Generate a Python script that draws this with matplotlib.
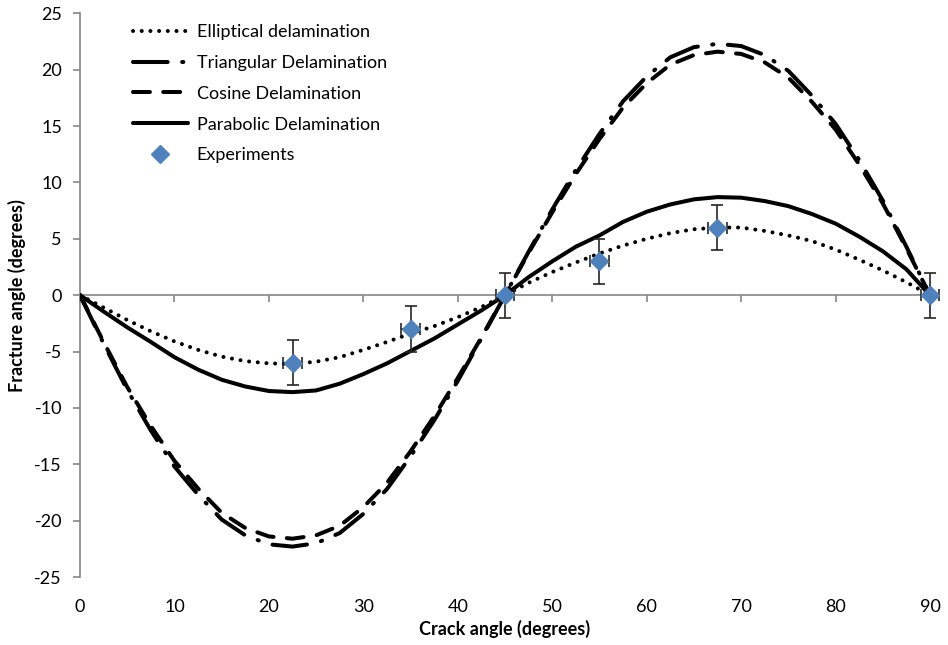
import matplotlib
matplotlib.use("Agg")
import matplotlib.pyplot as plt

plt.rcParams['font.family'] = ['Lato', 'DejaVu Sans']
plt.rcParams['axes.unicode_minus'] = False

# ---- data ----
crack_angle = [0, 2.5, 5, 7.5, 10, 12.5, 15, 17.5, 20, 22.5, 25, 27.5, 30, 32.5, 35, 37.5, 40, 42.5, 45,
               47.5, 50, 52.5, 55, 57.5, 60, 62.5, 65, 67.5, 70, 72.5, 75, 77.5, 80, 82.5, 85, 87.5, 90]

elliptical = [0, -1.1, -2.2, -3.2, -4.1, -4.85, -5.45, -5.85, -6.05, -6.1, -5.9, -5.5, -4.85, -4.15, -3.4, -2.75, -1.95, -1.05, 0,
              1.1, 2.05, 2.9, 3.7, 4.4, 5.0, 5.5, 5.85, 6.0, 6.0, 5.7, 5.3, 4.8, 4.05, 3.15, 2.2, 1.15, 0]

triangular = [0, -4.3, -8.4, -12.0, -15.2, -17.7, -19.9, -21.3, -22.1, -22.3, -22.0, -21.1, -19.4, -17.2, -14.3, -11.1, -7.6, -3.85, 0,
              3.85, 7.6, 11.1, 14.3, 17.2, 19.4, 21.1, 22.0, 22.3, 22.1, 21.3, 19.9, 17.7, 15.2, 12.0, 8.4, 4.3, 0]

cosine = [0, -4.15, -8.15, -11.6, -14.7, -17.15, -19.3, -20.65, -21.4, -21.6, -21.3, -20.45, -18.8, -16.65, -13.85, -10.75, -7.35, -3.75, 0,
          3.75, 7.35, 10.75, 13.85, 16.65, 18.8, 20.45, 21.3, 21.6, 21.4, 20.65, 19.3, 17.15, 14.7, 11.6, 8.15, 4.15, 0]

parabolic = [0, -1.45, -2.85, -4.15, -5.5, -6.6, -7.5, -8.1, -8.5, -8.6, -8.45, -7.85, -7.0, -6.05, -4.95, -3.85, -2.6, -1.35, 0,
             1.6, 3.0, 4.3, 5.3, 6.5, 7.4, 8.05, 8.5, 8.7, 8.65, 8.35, 7.9, 7.2, 6.35, 5.2, 3.9, 2.3, 0]

exp_x = [22.5, 35, 45, 55, 67.5, 90]
exp_y = [-6, -3, 0, 3, 6, 0]
exp_xerr = [1, 1, 1, 1, 1, 1]
exp_yerr = [2, 2, 2, 2, 2, 2]

x_ticks = [0, 10, 20, 30, 40, 50, 60, 70, 80, 90]
y_ticks = [-25, -20, -15, -10, -5, 0, 5, 10, 15, 20, 25]

# ---- figure ----
fig = plt.figure(figsize=(9.48, 6.45), dpi=100)
ax = fig.add_axes([0.0844, 0.1054, 0.8966, 0.8739])

lw = 2.9
ax.plot(crack_angle, elliptical, color='black', lw=2.9, linestyle=(0, (0.01, 2.15)),
        dash_capstyle='round', label='Elliptical delamination', zorder=3)
ax.plot(crack_angle, triangular, color='black', lw=lw, linestyle=(0, (8.6, 3.6, 0.3, 3.6)),
        dash_capstyle='round', label='Triangular Delamination', zorder=3)
ax.plot(crack_angle, cosine, color='black', lw=lw, linestyle=(0, (4.2, 3.3)),
        dash_capstyle='round', label='Cosine Delamination', zorder=3)
ax.plot(crack_angle, parabolic, color='black', lw=lw, linestyle='-',
        solid_capstyle='round', solid_joinstyle='round', label='Parabolic Delamination', zorder=3)

ax.errorbar(exp_x, exp_y, xerr=exp_xerr, yerr=exp_yerr, fmt='none', ecolor='#262626',
            elinewidth=1.2, capsize=4, capthick=1.2, zorder=4, clip_on=False)
ax.plot(exp_x, exp_y, linestyle='none', marker='D', markersize=9, color='#4F81BD',
        markeredgecolor='#4F81BD', label='Experiments', zorder=5, clip_on=False)

ax.set_xlim(0, 90)
ax.set_ylim(-25, 25)
ax.set_xticks(x_ticks)
ax.set_yticks(y_ticks)

axis_gray = '#868686'
for s in ['top', 'right', 'bottom']:
    ax.spines[s].set_visible(False)
ax.spines['left'].set_color(axis_gray)
ax.spines['left'].set_linewidth(1.2)

ax.tick_params(axis='x', length=0, pad=16, labelsize=13)
ax.tick_params(axis='y', direction='out', length=5, width=1.2, color=axis_gray, pad=8, labelsize=13)

# horizontal axis line at y = 0 with tick marks
sec = ax.secondary_xaxis(0.49999)
sec.set_xticks(x_ticks)
sec.tick_params(axis='x', direction='out', length=5, width=1.2, color=axis_gray, labelbottom=False, labeltop=False)
sec.spines['bottom'].set_color(axis_gray)
sec.spines['bottom'].set_linewidth(1.2)
sec.spines['top'].set_visible(False)

ax.set_xlabel('Crack angle (degrees)', fontsize=13, fontweight='bold', labelpad=3)
ax.set_ylabel('Fracture angle (degrees)', fontsize=13, fontweight='bold', labelpad=6)

leg = ax.legend(loc='upper left', bbox_to_anchor=(0.05, 1.0), frameon=False, fontsize=13,
                handlelength=3.0, handletextpad=0.5, labelspacing=0.82, borderaxespad=0.2)

fig.savefig('out.png', dpi=100)
